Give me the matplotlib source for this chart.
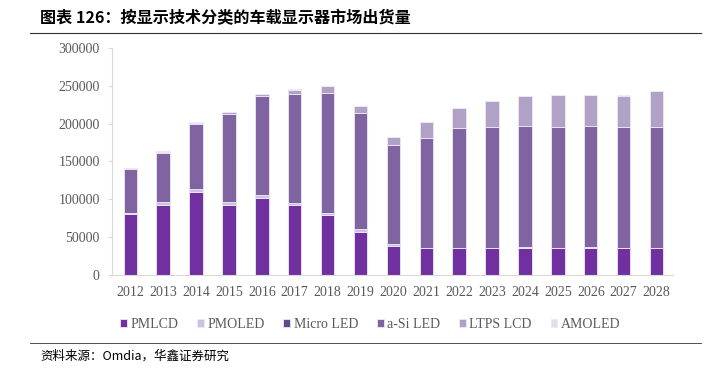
import matplotlib.pyplot as plt
import numpy as np

years = [str(y) for y in range(2012, 2029)]
pmlcd = [80000, 93000, 110000, 93000, 102000, 92000, 79000, 57000, 38000,
         35500, 35500, 35500, 35500, 35500, 35500, 35500, 35500]
pmoled = [2000, 3000, 3000, 3000, 3000, 3000, 3000, 3500, 3000,
          500, 500, 500, 1000, 500, 1000, 500, 500]
micro_led = [0] * 17
asi_led = [58500, 65000, 86000, 117000, 131000, 143500, 158000, 154000, 130500,
           145000, 158000, 160000, 160000, 160000, 160000, 160000, 160000]
ltps_lcd = [500, 2000, 2000, 2000, 3000, 6000, 9000, 9000, 11000,
            21000, 27000, 34000, 39500, 41500, 41000, 40000, 46500]
amoled = [0, 500, 500, 500, 500, 500, 500, 0, 0,
          0, 0, 0, 500, 500, 500, 1500, 500]

series = [("PMLCD", pmlcd, "#7030A0"),
          ("PMOLED", pmoled, "#CCC1DF"),
          ("Micro LED", micro_led, "#5F4B8B"),
          ("a-Si LED", asi_led, "#8064A2"),
          ("LTPS LCD", ltps_lcd, "#B2A1C7"),
          ("AMOLED", amoled, "#E5DFEC")]

plt.rcParams['font.family'] = ['Liberation Serif', 'Noto Sans CJK SC']

fig = plt.figure(figsize=(7.19, 3.71), dpi=100)
ax = fig.add_axes([0.156, 0.259, 0.78, 0.612])

x = np.arange(len(years))
bottom = np.zeros(len(years))
for name, vals, col in series:
    v = np.array(vals, dtype=float)
    ax.bar(x, v, 0.41, bottom=bottom, color=col, label=name,
           edgecolor="#EEE8F5", linewidth=0.6)
    bottom += v

ax.set_ylim(0, 300000)
ax.set_yticks(range(0, 300001, 50000))
ax.set_xlim(-0.55, len(years) - 0.5)
ax.set_xticks(x)
ax.set_xticklabels(years)
for s in ["top", "right"]:
    ax.spines[s].set_visible(False)
for s in ["left", "bottom"]:
    ax.spines[s].set_color("#D9D9D9")
ax.tick_params(axis="y", length=3, color="#D9D9D9", labelsize=10,
               labelcolor="#595959", pad=6)
ax.tick_params(axis="x", length=0, labelsize=10, labelcolor="#595959", pad=8)

ax.legend(loc="upper center", bbox_to_anchor=(0.46, -0.135), ncol=6,
          frameon=False, fontsize=10, handlelength=0.5, handleheight=0.5,
          handletextpad=0.25, columnspacing=1.35, labelcolor="#595959")

fig.text(0.056, 0.952, "图表 126：按显示技术分类的车载显示器市场出货量",
         fontsize=11.6, fontweight="bold", family="Noto Sans CJK SC",
         va="center", ha="left")
fig.add_artist(plt.Line2D([0.042, 0.975], [0.912, 0.912], color="#333333",
                          linewidth=0.8))
fig.add_artist(plt.Line2D([0.042, 0.975], [0.075, 0.075], color="#333333",
                          linewidth=0.6))
fig.text(0.056, 0.040, "资料来源：Omdia，华鑫证券研究", fontsize=9,
         family="Noto Sans CJK SC", va="center", ha="left")

fig.savefig("out.png", dpi=100)
